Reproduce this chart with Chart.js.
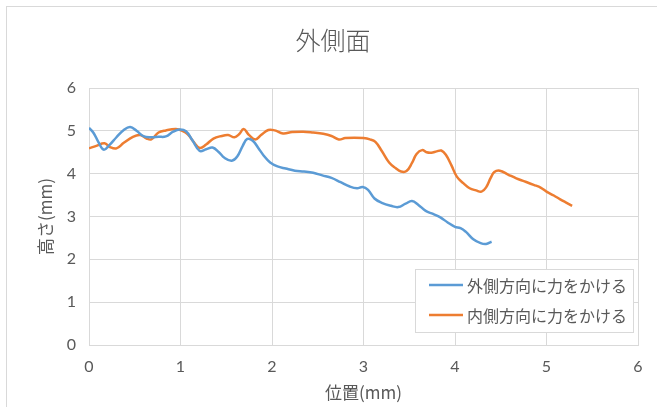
<!DOCTYPE html>
<html>
<head>
<meta charset="utf-8">
<script src="https://cdn.jsdelivr.net/npm/chart.js@4/dist/chart.umd.min.js"></script>
<style>
  html, body { margin: 0; padding: 0; background: #ffffff; }
  #wrap { position: relative; width: 657px; height: 407px; }
</style>
</head>
<body>
<div id="wrap"><canvas id="c" width="657" height="407"></canvas></div>
<script>
// Series labels and measured profiles (position mm, height mm)
const chartTitle = '外側面';
const xTitle = '位置(mm)';
const yTitle = '高さ(mm)';
const seriesNames = ['外側方向に力をかける', '内側方向に力をかける'];
const seriesColors = ['#5B9BD5', '#ED7D31'];
const xTicks = [0, 1, 2, 3, 4, 5, 6];
const yTicks = [0, 1, 2, 3, 4, 5, 6];

const outerX = [0.00, 0.05, 0.10, 0.16, 0.22, 0.30, 0.38, 0.45, 0.52, 0.60, 0.68, 0.76, 0.84, 0.92, 0.99,
  1.06, 1.13, 1.21, 1.28, 1.35, 1.42, 1.48, 1.56, 1.62, 1.68, 1.73, 1.79, 1.85, 1.91, 1.98,
  2.06, 2.15, 2.25, 2.35, 2.45, 2.55, 2.65, 2.75, 2.85, 2.93, 2.99, 3.05, 3.12, 3.20, 3.30,
  3.38, 3.46, 3.53, 3.60, 3.68, 3.76, 3.84, 3.92, 4.00, 4.06, 4.12, 4.20, 4.28, 4.34, 4.40];
const outerY = [5.07, 4.95, 4.75, 4.56, 4.66, 4.85, 5.02, 5.09, 5.00, 4.87, 4.85, 4.86, 4.87, 4.98, 5.03,
  4.99, 4.78, 4.53, 4.57, 4.61, 4.50, 4.37, 4.30, 4.40, 4.65, 4.81, 4.77, 4.60, 4.42, 4.26,
  4.17, 4.12, 4.07, 4.05, 4.02, 3.96, 3.90, 3.80, 3.70, 3.66, 3.69, 3.62, 3.42, 3.32, 3.25,
  3.22, 3.30, 3.36, 3.27, 3.13, 3.06, 2.98, 2.86, 2.76, 2.73, 2.64, 2.47, 2.38, 2.36, 2.41];

const innerX = [0.00, 0.08, 0.17, 0.23, 0.30, 0.38, 0.48, 0.56, 0.63, 0.68, 0.76, 0.84, 0.95, 1.02, 1.08,
  1.14, 1.21, 1.28, 1.36, 1.45, 1.52, 1.59, 1.64, 1.69, 1.75, 1.82, 1.88, 1.96, 2.03, 2.12,
  2.22, 2.34, 2.45, 2.56, 2.65, 2.73, 2.80, 2.90, 3.00, 3.07, 3.13, 3.20, 3.28, 3.35, 3.41,
  3.47, 3.53, 3.58, 3.64, 3.69, 3.74, 3.80, 3.85, 3.90, 3.96, 4.02, 4.09, 4.16, 4.23, 4.29,
  4.34, 4.39, 4.43, 4.49, 4.58, 4.67, 4.76, 4.86, 4.94, 5.00, 5.08, 5.15, 5.21, 5.28];
const innerY = [4.59, 4.65, 4.71, 4.62, 4.59, 4.72, 4.86, 4.90, 4.82, 4.80, 4.96, 5.01, 5.04, 5.00, 4.92,
  4.75, 4.60, 4.68, 4.82, 4.88, 4.90, 4.85, 4.92, 5.04, 4.90, 4.80, 4.90, 5.02, 5.01, 4.94,
  4.97, 4.98, 4.96, 4.93, 4.88, 4.80, 4.83, 4.84, 4.83, 4.80, 4.74, 4.53, 4.26, 4.13, 4.05,
  4.06, 4.25, 4.46, 4.55, 4.50, 4.49, 4.52, 4.54, 4.44, 4.20, 3.93, 3.78, 3.66, 3.61, 3.58,
  3.68, 3.90, 4.04, 4.07, 3.98, 3.89, 3.82, 3.74, 3.67, 3.58, 3.49, 3.40, 3.33, 3.25];

const toPoints = (xs, ys) => xs.map((x, i) => ({ x: x, y: ys[i] }));

const TEXT = '#595959';
const GRID = '#d9d9d9';
const JP = '"Noto Sans CJK JP", "Noto Sans", sans-serif';
const NUM = 'Lato, "Noto Sans", sans-serif';

// Background, thin frame around the whole chart, and the chart heading
const framePlugin = {
  id: 'frame',
  beforeDraw(chart) {
    const ctx = chart.ctx;
    ctx.save();
    ctx.fillStyle = '#ffffff';
    ctx.fillRect(0, 0, chart.width, chart.height);
    ctx.strokeStyle = GRID;
    ctx.lineWidth = 1;
    ctx.strokeRect(6.5, 6.5, chart.width + 20, chart.height + 20);
    ctx.fillStyle = TEXT;
    ctx.font = '300 25px ' + JP;
    ctx.textAlign = 'center';
    ctx.textBaseline = 'middle';
    ctx.fillText(chartTitle, 333, 40);
    ctx.restore();
  }
};

// Boxed legend in the lower right of the plot area
const boxLegend = {
  id: 'boxLegend',
  afterDraw(chart) {
    const ctx = chart.ctx;
    const area = chart.chartArea;
    const ds = chart.data.datasets;
    ctx.save();
    ctx.font = '16px ' + JP;
    let tw = 0;
    ds.forEach(d => { tw = Math.max(tw, ctx.measureText(d.label).width); });
    const sample = 34, gap = 4, padL = 14, padR = 6, rowH = 30;
    const w = padL + sample + gap + tw + padR;
    const h = rowH * ds.length + 3;
    const right = area.right - 5;
    const bottom = 332;
    const left = right - w, top = bottom - h;
    ctx.fillStyle = '#ffffff';
    ctx.fillRect(left, top, w, h);
    ctx.strokeStyle = GRID;
    ctx.lineWidth = 1;
    ctx.strokeRect(Math.round(left) + 0.5, Math.round(top) + 0.5, Math.round(w), Math.round(h));
    ds.forEach((d, i) => {
      const cy = top + 16 + i * rowH;
      ctx.strokeStyle = d.borderColor;
      ctx.lineWidth = 2.5;
      ctx.beginPath();
      ctx.moveTo(left + padL, cy);
      ctx.lineTo(left + padL + sample, cy);
      ctx.stroke();
      ctx.fillStyle = TEXT;
      ctx.textBaseline = 'middle';
      ctx.textAlign = 'left';
      ctx.fillText(d.label, left + padL + sample + gap, cy + 1);
    });
    ctx.restore();
  }
};

const datasets = [
  { label: seriesNames[0], data: toPoints(outerX, outerY), borderColor: seriesColors[0] },
  { label: seriesNames[1], data: toPoints(innerX, innerY), borderColor: seriesColors[1] }
].map(d => Object.assign(d, {
  showLine: true, pointRadius: 0, borderWidth: 2.5, tension: 0.4, fill: false,
  backgroundColor: d.borderColor
}));

new Chart(document.getElementById('c'), {
  type: 'scatter',
  data: { datasets: datasets },
  plugins: [framePlugin, boxLegend],
  options: {
    responsive: false,
    animation: false,
    devicePixelRatio: 1,
    layout: { padding: { left: 0, right: 19, top: 88, bottom: 0 } },
    plugins: {
      legend: { display: false },
      tooltip: { enabled: false },
      title: { display: false }
    },
    scales: {
      x: {
        type: 'linear',
        min: 0, max: 6,
        afterBuildTicks: s => { s.ticks = xTicks.map(v => ({ value: v })); },
        afterFit: s => { s.height = 62; },
        grid: { color: GRID, lineWidth: 1, drawTicks: false },
        border: { color: GRID, width: 1 },
        ticks: { color: TEXT, font: { family: NUM, size: 16 }, padding: 12 },
        title: {
          display: true, text: xTitle, color: TEXT,
          font: { family: JP, size: 17 }, padding: { top: 0, bottom: 4 }
        }
      },
      y: {
        type: 'linear',
        min: 0, max: 6,
        afterBuildTicks: s => { s.ticks = yTicks.map(v => ({ value: v })); },
        afterFit: s => { s.width = 89; },
        grid: { color: GRID, lineWidth: 1, drawTicks: false },
        border: { color: GRID, width: 1 },
        ticks: { color: TEXT, font: { family: NUM, size: 16 }, padding: 13 },
        title: {
          display: true, text: yTitle, color: TEXT,
          font: { family: JP, size: 17 }, padding: { top: 35, bottom: 0 }
        }
      }
    }
  }
});
</script>
</body>
</html>
